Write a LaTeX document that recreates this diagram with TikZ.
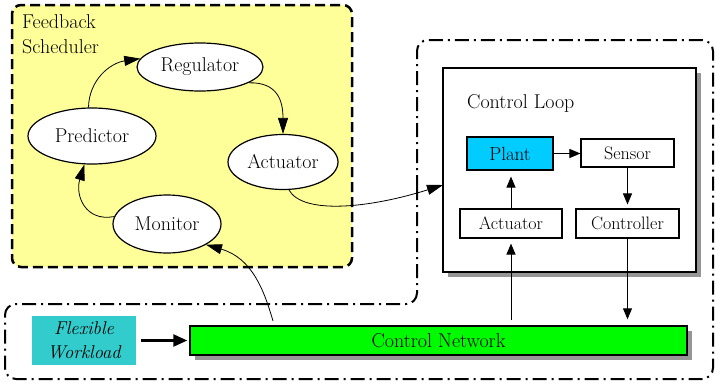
\documentclass[tikz,border=0pt]{standalone}
\usetikzlibrary{arrows.meta,shapes.geometric,shadows,calc}
\definecolor{pale}{RGB}{255,255,153}
\definecolor{plantblue}{RGB}{0,204,255}
\definecolor{flexcyan}{RGB}{51,204,204}
\definecolor{netgreen}{RGB}{0,250,0}
\definecolor{shadowgray}{RGB}{150,150,150}
\begin{document}
\begin{tikzpicture}[x=1pt,y=-1pt,
  ell/.style={ellipse, draw, line width=1.2pt, fill=white, inner sep=0pt, font=\fontsize{20}{25}\selectfont},
  sbox/.style={rectangle, draw, line width=1.1pt, fill=white, inner sep=0pt, font=\fontsize{18}{22}\selectfont},
  bigarr/.style={-{Triangle[length=16pt,width=10pt]}, line width=0.8pt},
  arr/.style={-{Triangle[length=11pt,width=9pt]}, line width=1pt},
  dashdotline/.style={line width=2pt, dash pattern=on 14pt off 5pt on 2pt off 5pt},
  shadowed/.style={drop shadow={shadow xshift=5pt, shadow yshift=-5pt, opacity=1, fill=shadowgray}},
]
\useasboundingbox (0,0) rectangle (715,383);

% dash-dot outline
\draw[dashdotline, rounded corners=11pt]
  (417,200) -- (417,40) -- (713,40) -- (713,379) -- (5,379) -- (5,304) -- (417,304) -- cycle;

% feedback scheduler area
\draw[fill=pale, line width=2.5pt, dash pattern=on 10pt off 5pt, rounded corners=9pt]
  (12,5) rectangle (352,267);
\node[anchor=north west, align=left, inner sep=0pt, font=\fontsize{20}{25}\selectfont]
  (fstitle) at (22,14) {Feedback\\Scheduler};

\node[ell, minimum width=126pt, minimum height=48pt] (reg) at (200,67) {Regulator};
\node[ell, minimum width=128pt, minimum height=56pt] (pred) at (92,136) {Predictor};
\node[ell, minimum width=110pt, minimum height=55pt] (act) at (283,162) {Actuator};
\node[ell, minimum width=108pt, minimum height=58pt] (mon) at (167,224) {Monitor};

% control loop
\node[rectangle, draw, line width=1.1pt, fill=white, shadowed, minimum width=253pt, minimum height=204pt, inner sep=0pt]
  (loop) at (569.5,170) {};
\node[anchor=base west, inner sep=0pt, font=\fontsize{20}{25}\selectfont] (looptitle) at (467,108) {Control Loop};
\node[sbox, fill=plantblue, minimum width=86pt, minimum height=33pt, font=\fontsize{19}{23}\selectfont] (plant) at (510,153.5) {Plant};
\node[sbox, minimum width=93pt, minimum height=28pt] (sensor) at (627.5,153) {Sensor};
\node[sbox, minimum width=102pt, minimum height=29pt] (act2) at (511,223.5) {Actuator};
\node[sbox, minimum width=103pt, minimum height=29pt] (ctrl) at (627.5,223.5) {Controller};

% network
\node[rectangle, draw, line width=1.4pt, fill=netgreen, shadowed, minimum width=497pt, minimum height=29pt, inner sep=0pt, font=\fontsize{20}{25}\selectfont]
  (net) at (438.5,340.5) {Control Network};
\node[rectangle, fill=flexcyan, minimum width=104pt, minimum height=49pt, inner sep=0pt, align=center,
  font=\fontsize{18.5}{24}\selectfont\itshape] (flex) at (84,340.5) {Flexible\\Workload};

% connectors in scheduler
\draw[bigarr] (pred.97) .. controls (89,80) and (110,63) .. (reg.172);
\draw[bigarr] (reg.-18) .. controls (277,82) and (283,100) .. (act.north);
\draw[bigarr] (mon.172) .. controls (85,222) and (75,195) .. (pred.255);

\coordinate (loopin) at (443,185);
\draw[bigarr] (act.-78) .. controls (303,215) and (370,208) .. (loopin);
\coordinate (netm) at (273,321);
\draw[bigarr] (netm) .. controls (264,290) and (252,258) .. (mon.-28);

% control loop connectors
\draw[arr] (plant.east) -- (plant.east -| sensor.west);
\draw[arr, shorten >=4pt] (sensor.south) -- (ctrl.north);
\draw[arr, shorten >=6pt] (act2.north) -- (act2.north |- plant.south);
\draw[arr, shorten <=5pt, shorten >=5pt] (act2.south |- net.north) -- (act2.south);
\draw[arr, shorten >=6pt] (ctrl.south) -- (ctrl.south |- net.north);

% workload arrow
\draw[line width=2.5pt, -{Triangle[length=14pt,width=12pt]}, shorten <=5pt, shorten >=2pt] (flex.east) -- (net.west);
\end{tikzpicture}
\end{document}
